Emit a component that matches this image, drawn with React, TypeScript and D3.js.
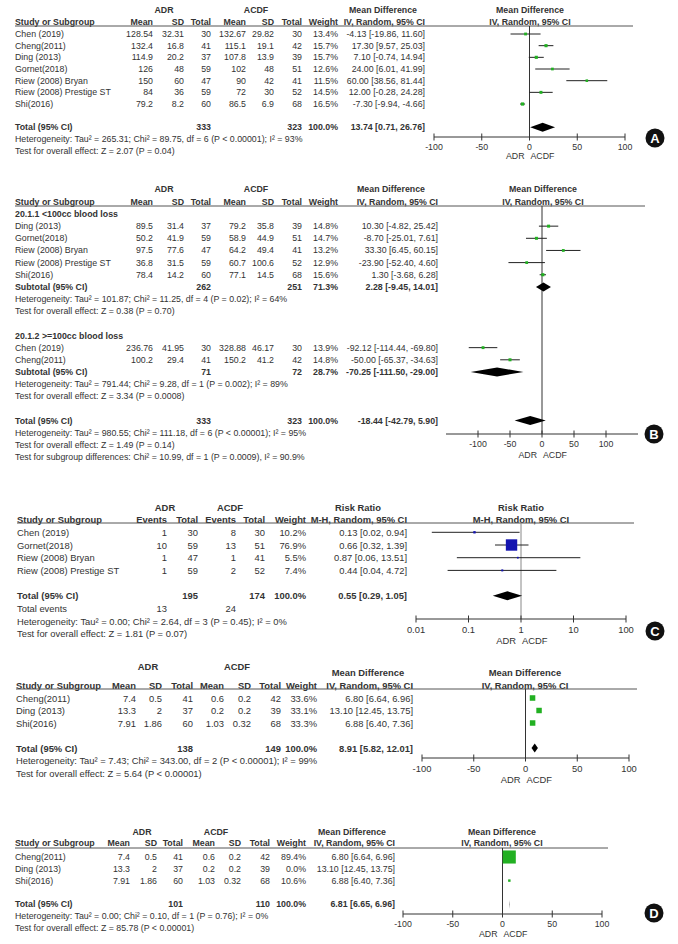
import React from "react";
import * as d3 from "d3";

const FONT = "'Liberation Sans', Arial, Helvetica, sans-serif";
const INK = "#333";
const GREEN = "#22b022";
const BLUE = "#1414b0";

// ---------- Panel A ----------
const studiesA = ["Chen (2019)", "Cheng(2011)", "Ding (2013)", "Gornet(2018)", "Riew (2008) Bryan", "Riew (2008) Prestige ST", "Shi(2016)"];
const adrMeanA = [128.54, 132.4, 114.9, 126, 150, 84, 79.2];
const adrSdA = [32.31, 16.8, 20.2, 48, 60, 36, 8.2];
const adrNA = [30, 41, 37, 59, 47, 59, 60];
const acdfMeanA = [132.67, 115.1, 107.8, 102, 90, 72, 86.5];
const acdfSdA = [29.82, 19.1, 13.9, 48, 42, 30, 6.9];
const acdfNA = [30, 42, 39, 51, 41, 52, 68];
const weightA = [13.4, 15.7, 15.7, 12.6, 11.5, 14.5, 16.5];
const mdA = [-4.13, 17.3, 7.1, 24.0, 60.0, 12.0, -7.3];
const loA = [-19.86, 9.57, -0.74, 6.01, 38.56, -0.28, -9.94];
const hiA = [11.6, 25.03, 14.94, 41.99, 81.44, 24.28, -4.66];
const totalA = [333, 323, 100, 13.74, 0.71, 26.76];
const statsA = ["Heterogeneity: Tau² = 265.31; Chi² = 89.75, df = 6 (P < 0.00001); I² = 93%", "Test for overall effect: Z = 2.07 (P = 0.04)"];

// ---------- Panel B ----------
const studiesB1 = ["Ding (2013)", "Gornet(2018)", "Riew (2008) Bryan", "Riew (2008) Prestige ST", "Shi(2016)"];
const adrMeanB1 = [89.5, 50.2, 97.5, 36.8, 78.4];
const adrSdB1 = [31.4, 41.9, 77.6, 31.5, 14.2];
const adrNB1 = [37, 59, 47, 59, 60];
const acdfMeanB1 = [79.2, 58.9, 64.2, 60.7, 77.1];
const acdfSdB1 = [35.8, 44.9, 49.4, 100.6, 14.5];
const acdfNB1 = [39, 51, 41, 52, 68];
const weightB1 = [14.8, 14.7, 13.2, 12.9, 15.6];
const mdB1 = [10.3, -8.7, 33.3, -23.9, 1.3];
const loB1 = [-4.82, -25.01, 6.45, -52.4, -3.68];
const hiB1 = [25.42, 7.61, 60.15, 4.6, 6.28];
const subtotalB1 = [262, 251, 71.3, 2.28, -9.45, 14.01];
const statsB1 = ["Heterogeneity: Tau² = 101.87; Chi² = 11.25, df = 4 (P = 0.02); I² = 64%", "Test for overall effect: Z = 0.38 (P = 0.70)"];

const studiesB2 = ["Chen (2019)", "Cheng(2011)"];
const adrMeanB2 = [236.76, 100.2];
const adrSdB2 = [41.95, 29.4];
const adrNB2 = [30, 41];
const acdfMeanB2 = [328.88, 150.2];
const acdfSdB2 = [46.17, 41.2];
const acdfNB2 = [30, 42];
const weightB2 = [13.9, 14.8];
const mdB2 = [-92.12, -50.0];
const loB2 = [-114.44, -65.37];
const hiB2 = [-69.8, -34.63];
const subtotalB2 = [71, 72, 28.7, -70.25, -111.5, -29.0];
const statsB2 = ["Heterogeneity: Tau² = 791.44; Chi² = 9.28, df = 1 (P = 0.002); I² = 89%", "Test for overall effect: Z = 3.34 (P = 0.0008)"];
const totalB = [333, 323, 100, -18.44, -42.79, 5.9];
const statsB = ["Heterogeneity: Tau² = 980.55; Chi² = 111.18, df = 6 (P < 0.00001); I² = 95%", "Test for overall effect: Z = 1.49 (P = 0.14)", "Test for subgroup differences: Chi² = 10.99, df = 1 (P = 0.0009), I² = 90.9%"];
const subgroupsB = ["20.1.1 <100cc blood loss", "20.1.2 >=100cc blood loss"];

// ---------- Panel C ----------
const studiesC = ["Chen (2019)", "Gornet(2018)", "Riew (2008) Bryan", "Riew (2008) Prestige ST"];
const adrEventsC = [1, 10, 1, 1];
const adrNC = [30, 59, 47, 59];
const acdfEventsC = [8, 13, 1, 2];
const acdfNC = [30, 51, 41, 52];
const weightC = [10.2, 76.9, 5.5, 7.4];
const rrC = [0.13, 0.66, 0.87, 0.44];
const loC = [0.02, 0.32, 0.06, 0.04];
const hiC = [0.94, 1.39, 13.51, 4.72];
const totalC = [195, 174, 100, 0.55, 0.29, 1.05];
const eventsC = [13, 24];
const statsC = ["Heterogeneity: Tau² = 0.00; Chi² = 2.64, df = 3 (P = 0.45); I² = 0%", "Test for overall effect: Z = 1.81 (P = 0.07)"];

// ---------- Panel (unlabelled) ----------
const studiesE = ["Cheng(2011)", "Ding (2013)", "Shi(2016)"];
const adrMeanE = [7.4, 13.3, 7.91];
const adrSdE = [0.5, 2, 1.86];
const adrNE = [41, 37, 60];
const acdfMeanE = [0.6, 0.2, 1.03];
const acdfSdE = [0.2, 0.2, 0.32];
const acdfNE = [42, 39, 68];
const weightE = [33.6, 33.1, 33.3];
const mdE = [6.8, 13.1, 6.88];
const loE = [6.64, 12.45, 6.4];
const hiE = [6.96, 13.75, 7.36];
const totalE = [138, 149, 100, 8.91, 5.82, 12.01];
const statsE = ["Heterogeneity: Tau² = 7.43; Chi² = 343.00, df = 2 (P < 0.00001); I² = 99%", "Test for overall effect: Z = 5.64 (P < 0.00001)"];

// ---------- Panel D ----------
const studiesD = ["Cheng(2011)", "Ding (2013)", "Shi(2016)"];
const adrMeanD = [7.4, 13.3, 7.91];
const adrSdD = [0.5, 2, 1.86];
const adrND = [41, 37, 60];
const acdfMeanD = [0.6, 0.2, 1.03];
const acdfSdD = [0.2, 0.2, 0.32];
const acdfND = [42, 39, 68];
const weightD = [89.4, 0.0, 10.6];
const mdD = [6.8, 13.1, 6.88];
const loD = [6.64, 12.45, 6.4];
const hiD = [6.96, 13.75, 7.36];
const totalD = [101, 110, 100, 6.81, 6.65, 6.96];
const statsD = ["Heterogeneity: Tau² = 0.00; Chi² = 0.10, df = 1 (P = 0.76); I² = 0%", "Test for overall effect: Z = 85.78 (P < 0.00001)"];

const mdTicks = [-100, -50, 0, 50, 100];
const rrTicks = [0.01, 0.1, 1, 10, 100];
const groupLabels = ["ADR", "ACDF"];

// ---------- helpers ----------
const fmtW = (w: number) => w.toFixed(1) + "%";
const fmtCI = (m: number, l: number, h: number) => `${m.toFixed(2)} [${l.toFixed(2)}, ${h.toFixed(2)}]`;
const markSize = d3.scaleLinear().domain([0, 100]).range([1, 14.5]);

type Row = {
  kind: "study" | "total" | "heading" | "text" | "events";
  label: string;
  cells?: string[];
  ci?: string;
  est?: number;
  lo?: number;
  hi?: number;
  w?: number;
};

function contRows(st: string[], m1: number[], s1: number[], n1: number[], m2: number[], s2: number[], n2: number[], w: number[], e: number[], lo: number[], hi: number[]): Row[] {
  return st.map((s, i) => ({
    kind: "study",
    label: s,
    cells: [String(m1[i]), String(s1[i]), String(n1[i]), String(m2[i]), String(s2[i]), String(n2[i]), fmtW(w[i])],
    ci: fmtCI(e[i], lo[i], hi[i]),
    est: e[i], lo: lo[i], hi: hi[i], w: w[i],
  }));
}
function contTotal(label: string, t: number[]): Row {
  return { kind: "total", label, cells: ["", "", String(t[0]), "", "", String(t[1]), fmtW(t[2])], ci: fmtCI(t[3], t[4], t[5]), est: t[3], lo: t[4], hi: t[5] };
}
const textRows = (s: string[]): Row[] => s.map((t) => ({ kind: "text", label: t }));

const rowsA: (Row | null)[] = [
  ...contRows(studiesA, adrMeanA, adrSdA, adrNA, acdfMeanA, acdfSdA, acdfNA, weightA, mdA, loA, hiA),
  null,
  contTotal("Total (95% CI)", totalA),
  ...textRows(statsA),
];

const rowsB: (Row | null)[] = [
  { kind: "heading", label: subgroupsB[0] },
  ...contRows(studiesB1, adrMeanB1, adrSdB1, adrNB1, acdfMeanB1, acdfSdB1, acdfNB1, weightB1, mdB1, loB1, hiB1),
  contTotal("Subtotal (95% CI)", subtotalB1),
  ...textRows(statsB1),
  null,
  { kind: "heading", label: subgroupsB[1] },
  ...contRows(studiesB2, adrMeanB2, adrSdB2, adrNB2, acdfMeanB2, acdfSdB2, acdfNB2, weightB2, mdB2, loB2, hiB2),
  contTotal("Subtotal (95% CI)", subtotalB2),
  ...textRows(statsB2),
  null,
  contTotal("Total (95% CI)", totalB),
  ...textRows(statsB),
];

const rowsC: (Row | null)[] = [
  ...studiesC.map((s, i) => ({
    kind: "study" as const,
    label: s,
    cells: [String(adrEventsC[i]), String(adrNC[i]), String(acdfEventsC[i]), String(acdfNC[i]), fmtW(weightC[i])],
    ci: fmtCI(rrC[i], loC[i], hiC[i]),
    est: rrC[i], lo: loC[i], hi: hiC[i], w: weightC[i],
  })),
  null,
  { kind: "total", label: "Total (95% CI)", cells: ["", String(totalC[0]), "", String(totalC[1]), fmtW(totalC[2])], ci: fmtCI(totalC[3], totalC[4], totalC[5]), est: totalC[3], lo: totalC[4], hi: totalC[5] },
  { kind: "events", label: "Total events", cells: [String(eventsC[0]), "", String(eventsC[1]), "", ""] },
  ...textRows(statsC),
];

const rowsE: (Row | null)[] = [
  ...contRows(studiesE, adrMeanE, adrSdE, adrNE, acdfMeanE, acdfSdE, acdfNE, weightE, mdE, loE, hiE),
  null,
  contTotal("Total (95% CI)", totalE),
  ...textRows(statsE),
];

const rowsD: (Row | null)[] = [
  ...contRows(studiesD, adrMeanD, adrSdD, adrND, acdfMeanD, acdfSdD, acdfND, weightD, mdD, loD, hiD),
  null,
  contTotal("Total (95% CI)", totalD),
  ...textRows(statsD),
];

const contCols = ["Mean", "SD", "Total", "Mean", "SD", "Total", "Weight"];
const dichCols = ["Events", "Total", "Events", "Total", "Weight"];

const panels: any[] = [
  {
    key: "A", fs: 8.8, groupY: 10, headY: 22, lineY: 26, lineX: [15, 633], studyX: 15,
    groupX: [164, 256], cols: [153, 184, 211, 246, 274, 302, 338], colLabels: contCols,
    ciX: 425, ciTitle: "Mean Difference", ciTitleX: 383, ciTitleY: 10, ciSub: "IV, Random, 95% CI",
    scale: d3.scaleLinear().domain([-100, 100]).range([434, 625]), axisExt: null, ticks: mdTicks, tickFmt: (v: number) => String(v), zero: 0,
    plotTitleX: 530, plotTitleY: 10, axisY: 137, zeroColor: "#333", mark: GREEN,
    row0: 34, step: 11.67, rows: rowsA, letter: { x: 655, y: 138, t: "A" }, labY: 9.5, favY: 19,
  },
  {
    key: "B", fs: 8.8, groupY: 189, headY: 202, lineY: 206, lineX: [15, 645], studyX: 15,
    groupX: [164, 256], cols: [153, 184, 211, 246, 274, 302, 338], colLabels: contCols,
    ciX: 438, ciTitle: "Mean Difference", ciTitleX: 391, ciTitleY: 189, ciSub: "IV, Random, 95% CI",
    scale: d3.scaleLinear().domain([-100, 100]).range([478, 606]), axisExt: [-150, 150], ticks: mdTicks, tickFmt: (v: number) => String(v), zero: 0,
    plotTitleX: 543, plotTitleY: 189, axisY: 434, zeroColor: "#333", mark: GREEN,
    row0: 214, step: 12.15, rows: rowsB, letter: { x: 654, y: 434, t: "B" }, labY: 9.5, favY: 21,
  },
  {
    key: "C", fs: 9.4, groupY: 507, headY: 519, lineY: 523, lineX: [17, 634], studyX: 17,
    groupX: [165, 230], cols: [167, 198, 236, 265, 306], colLabels: dichCols,
    ciX: 407, ciTitle: "Risk Ratio", ciTitleX: 358, ciTitleY: 507, ciSub: "M-H, Random, 95% CI",
    scale: d3.scaleLog().domain([0.01, 100]).range([416, 626]), axisExt: null, ticks: rrTicks, tickFmt: (v: number) => String(v), zero: 1,
    plotTitleX: 521, plotTitleY: 507, axisY: 619, zeroColor: "#888", mark: BLUE,
    row0: 532.3, step: 12.7, rows: rowsC, letter: { x: 655, y: 631, t: "C" }, labY: 10, favY: 21,
  },
  {
    key: "E", fs: 9.4, groupY: 666, headY: 685, lineY: 689, lineX: [16, 637], studyX: 16,
    groupX: [148, 237], cols: [136, 162, 193, 224, 251, 281, 317], colLabels: contCols,
    ciX: 413, ciTitle: "Mean Difference", ciTitleX: 368, ciTitleY: 672, ciSub: "IV, Random, 95% CI",
    scale: d3.scaleLinear().domain([-100, 100]).range([422, 629]), axisExt: null, ticks: mdTicks, tickFmt: (v: number) => String(v), zero: 0,
    plotTitleX: 525, plotTitleY: 672, axisY: 758, zeroColor: "#333", mark: GREEN,
    row0: 698, step: 12.5, rows: rowsE, letter: null, labY: 10, favY: 21,
  },
  {
    key: "D", fs: 8.8, groupY: 832, headY: 843, lineY: 848, lineX: [15, 608], studyX: 15,
    groupX: [142, 216], cols: [130, 157, 183, 215, 241, 270, 306], colLabels: contCols,
    ciX: 395, ciTitle: "Mean Difference", ciTitleX: 352, ciTitleY: 832, ciSub: "IV, Random, 95% CI",
    scale: d3.scaleLinear().domain([-100, 100]).range([403, 602]), axisExt: null, ticks: mdTicks, tickFmt: (v: number) => String(v), zero: 0,
    plotTitleX: 502, plotTitleY: 832, axisY: 914, zeroColor: "#333", mark: GREEN,
    row0: 857, step: 11.8, rows: rowsD, letter: { x: 654, y: 913, t: "D" }, labY: 9.5, favY: 20,
  },
];

function Panel({ p }: { p: any }) {
  const sc = p.scale;
  const zx = sc(p.zero);
  const [r0, r1] = sc.range();
  const ax0 = p.axisExt ? sc(p.axisExt[0]) : r0;
  const ax1 = p.axisExt ? sc(p.axisExt[1]) : r1;
  const ciSubW = 0;
  return (
    <g fontFamily={FONT} fontSize={p.fs} fill={INK}>
      {groupLabels.map((g, i) => (
        <text key={g} x={p.groupX[i]} y={p.groupY} textAnchor="middle" fontWeight="bold" dominantBaseline="central">{g}</text>
      ))}
      <text x={p.studyX} y={p.headY} fontWeight="bold" dominantBaseline="central">Study or Subgroup</text>
      {p.colLabels.map((c: string, i: number) => (
        <text key={i} x={p.cols[i]} y={p.headY} textAnchor="end" fontWeight="bold" dominantBaseline="central">{c}</text>
      ))}
      <text x={p.ciTitleX} y={p.ciTitleY} textAnchor="middle" fontWeight="bold" dominantBaseline="central">{p.ciTitle}</text>
      <text x={p.ciX + ciSubW} y={p.headY} textAnchor="end" fontWeight="bold" dominantBaseline="central">{p.ciSub}</text>
      <text x={p.plotTitleX} y={p.plotTitleY} textAnchor="middle" fontWeight="bold" dominantBaseline="central">{p.ciTitle}</text>
      <text x={p.plotTitleX} y={p.headY} textAnchor="middle" fontWeight="bold" dominantBaseline="central">{p.ciSub}</text>
      <line x1={p.lineX[0]} x2={p.lineX[1]} y1={p.lineY} y2={p.lineY} stroke="#555" strokeWidth={1} />
      <line x1={zx} x2={zx} y1={p.lineY} y2={p.axisY} stroke={p.zeroColor} strokeWidth={1} />
      {/* axis */}
      <line x1={ax0} x2={ax1} y1={p.axisY} y2={p.axisY} stroke="#333" strokeWidth={1} />
      {p.ticks.map((t: number) => (
        <g key={t}>
          <line x1={sc(t)} x2={sc(t)} y1={p.axisY - 3.5} y2={p.axisY + 3.5} stroke="#333" strokeWidth={1} />
          <text x={sc(t)} y={p.axisY + p.labY} textAnchor="middle" dominantBaseline="central">{p.tickFmt(t)}</text>
        </g>
      ))}
      <text x={zx - 5} y={p.axisY + p.favY} textAnchor="end" dominantBaseline="central">ADR</text>
      <text x={zx + 1} y={p.axisY + p.favY} textAnchor="start" dominantBaseline="central">ACDF</text>
      {p.rows.map((r: Row | null, i: number) => {
        if (!r) return null;
        const y = p.row0 + i * p.step;
        const bold = r.kind === "total" || r.kind === "heading";
        const fw = bold ? "bold" : "normal";
        const s = r.w !== undefined ? markSize(r.w) : 0;
        return (
          <g key={i}>
            <text x={p.studyX} y={y} fontWeight={fw} dominantBaseline="central">{r.label}</text>
            {r.cells && r.cells.map((c, j) => c ? (
              <text key={j} x={p.cols[j]} y={y} textAnchor="end" fontWeight={fw} dominantBaseline="central">{c}</text>
            ) : null)}
            {r.ci && <text x={p.ciX} y={y} textAnchor="end" fontWeight={fw} dominantBaseline="central">{r.ci}</text>}
            {r.kind === "study" && (r.w as number) > 0 && (
              <g>
                <line x1={sc(r.lo)} x2={sc(r.hi)} y1={y} y2={y} stroke="#222" strokeWidth={1} />
                <rect x={sc(r.est) - s / 2} y={y - s / 2} width={s} height={s} fill={p.mark} />
              </g>
            )}
            {r.kind === "total" && (
              <path
                d={`M${sc(r.lo)},${y}L${sc(r.est)},${y - 4.5}L${sc(r.hi)},${y}L${sc(r.est)},${y + 4.5}Z`}
                fill="#000"
              />
            )}
          </g>
        );
      })}
      {p.letter && (
        <g>
          <circle cx={p.letter.x} cy={p.letter.y} r={9.5} fill="#111" />
          <text x={p.letter.x} y={p.letter.y + 0.5} textAnchor="middle" dominantBaseline="central" fill="#fff" fontWeight="bold" fontSize={13}>{p.letter.t}</text>
        </g>
      )}
    </g>
  );
}

export default function App() {
  return (
    <svg width={678} height={944} style={{ position: "absolute", left: 0, top: 0, background: "#fff" }}>
      <rect width={678} height={944} fill="#fff" />
      {panels.map((p) => <Panel key={p.key} p={p} />)}
    </svg>
  );
}
